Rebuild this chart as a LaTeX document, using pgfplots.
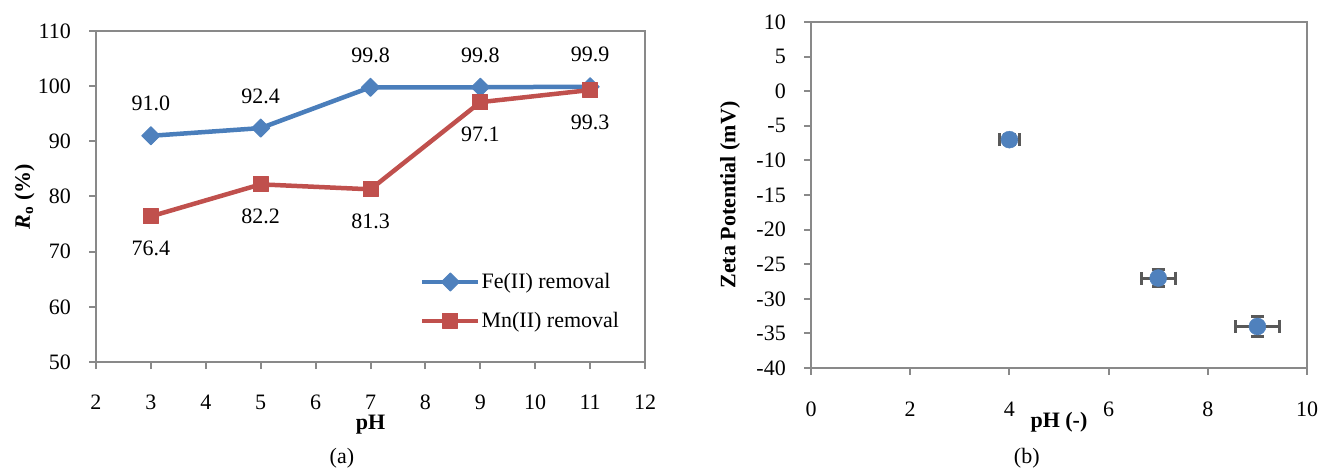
\documentclass[border=0pt]{standalone}
\usepackage{fontspec}
\setmainfont{Liberation Serif}
\usepackage{pgfplots}
\pgfplotsset{compat=1.18}
\definecolor{feblue}{HTML}{4F81BD}
\definecolor{feline}{HTML}{4A7EBB}
\definecolor{mnred}{HTML}{C0504D}
\definecolor{axgray}{HTML}{898989}
\definecolor{errgray}{HTML}{595959}

\pgfplotstableread{
x y lab
3 91.0 91.0
5 92.4 92.4
7 99.8 99.8
9 99.8 99.8
11 99.9 99.9
}\fedata
\pgfplotstableread{
x y lab
3 76.4 76.4
5 82.2 82.2
7 81.3 81.3
9 97.1 97.1
11 99.3 99.3
}\mndata
\pgfplotstableread{
x y xe ye
4 -7 0.20 0.7
7 -27 0.34 1.2
9 -34 0.44 1.5
}\zetadata

\newcommand{\bigfont}{\fontsize{22}{26}\selectfont}

\pgfplotsset{
  common/.style={
    scale only axis,
    anchor=south west,
    clip=false,
    font=\bigfont,
    axis line style={axgray, line width=2.5pt},
    tick style={axgray, line width=2pt},
    major tick length=7pt,
    tick align=outside,
    tick pos=left,
    /pgf/number format/assume math mode=true,
    ticklabel style={font=\bigfont, inner sep=0pt},
    yticklabel style={anchor=east, xshift=-18pt},
    xlabel style={anchor=center, font=\bigfont, inner sep=0pt},
    ylabel style={anchor=center, font=\bigfont, inner sep=0pt},
  },
}

\begin{document}
\begin{tikzpicture}[font=\bigfont]
\useasboundingbox (0pt,0pt) rectangle (1323pt,471pt);

\begin{axis}[common,
  at={(96pt,109pt)}, width=549pt, height=331pt,
  xmin=2, xmax=12, ymin=50, ymax=110,
  xtick={2,3,...,12}, ytick={50,60,...,110},
  xticklabel style={anchor=center, yshift=-33pt},
  xlabel={\textbf{pH}},
  xlabel style={at={(axis description cs:0.5,-0.188)}},
  ylabel={\textbf{\textit{R}\textsubscript{o} (\%)}},
  ylabel style={at={(axis description cs:-0.13,0.5)}},
  legend style={at={(rel axis cs:0.59,0.183)}, anchor=west, draw=none, fill=none,
    inner sep=0pt, row sep=20pt, font=\bigfont, nodes={inner sep=1pt}, cells={anchor=west}},
  legend image code/.code={\draw[mark repeat=2, mark phase=2, #1] plot coordinates {(0pt,0pt) (28pt,0pt) (56pt,0pt)};},
]
\addplot[feline, line width=4.5pt, line join=round,
  mark=square*, mark size=6.4pt, mark options={solid, rotate=45, fill=feblue, draw=feblue, line width=1pt},
  nodes near coords, point meta=explicit symbolic,
  nodes near coords style={anchor=center, yshift=32pt, text=black, font=\bigfont}]
  table[x=x, y=y, meta=lab] {\fedata};
\addlegendentry{Fe(II) removal}
\addplot[mnred, line width=4.5pt, line join=round,
  mark=square*, mark size=7.5pt, mark options={solid, fill=mnred, draw=mnred, line width=1pt},
  nodes near coords, point meta=explicit symbolic,
  nodes near coords style={anchor=center, yshift=-32pt, text=black, font=\bigfont}]
  table[x=x, y=y, meta=lab] {\mndata};
\addlegendentry{Mn(II) removal}
\node[font=\bigfont] at (axis description cs:0.448,-0.292) {(a)};
\end{axis}

\begin{axis}[common,
  at={(811pt,103pt)}, width=496pt, height=346pt,
  xmin=0, xmax=10, ymin=-40, ymax=10,
  xtick={0,2,...,10}, ytick={-40,-35,...,10},
  xticklabel style={anchor=center, yshift=-34pt},
  xlabel={\textbf{pH (-)}},
  xlabel style={at={(axis description cs:0.5,-0.156)}},
  ylabel={\textbf{Zeta Potential (mV)}},
  ylabel style={at={(axis description cs:-0.163,0.5)}},
]
\addplot[only marks, mark=*, mark size=8.5pt, mark options={fill=feblue, draw=feblue},
  error bars/.cd, x dir=both, x explicit, y dir=both, y explicit,
  error bar style={errgray, line width=3pt},
  error mark options={rotate=90, errgray, line width=3pt, mark size=6.5pt}]
  table[x=x, y=y, x error=xe, y error=ye] {\zetadata};
\node[font=\bigfont] at (axis description cs:0.435,-0.26) {(b)};
\end{axis}
\end{tikzpicture}
\end{document}
